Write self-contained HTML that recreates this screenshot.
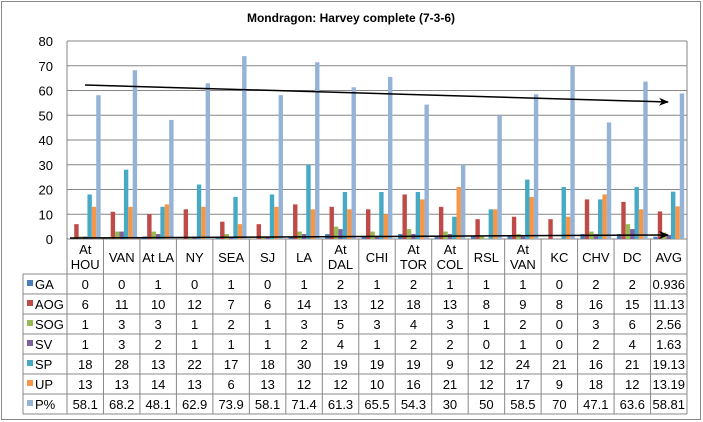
<!DOCTYPE html>
<html><head><style>body{margin:0;background:#fff}svg{display:block;font-family:"Liberation Sans",Arial,sans-serif}</style></head>
<body>
<svg id="s" width="703" height="422" xmlns="http://www.w3.org/2000/svg"></svg>
<script>
const s=document.getElementById('s');let h='';
h+='<rect x="1.5" y="1.5" width="699" height="418" fill="#fff" stroke="#888"/>';
h+='<text x="351" y="22" text-anchor="middle" font-size="12" font-weight="bold">Mondragon: Harvey complete (7-3-6)</text>';
const L=67,R=687,T=41,B=239,cw=(R-L)/17,u=(B-T)/80;
for(let i=0;i<=8;i++){const y=B-i*10*u;h+=`<line x1="${L}" x2="${R}" y1="${y}" y2="${y}" stroke="#868686"/>`;h+=`<text x="53" y="${y+5}" text-anchor="end" font-size="13">${i*10}</text>`;}
h+=`<line x1="${L}" x2="${L}" y1="${T}" y2="${B}" stroke="#868686"/><line x1="${R}" x2="${R}" y1="${T}" y2="${B}" stroke="#868686"/>`;
const cats=[["At","HOU"],["VAN"],["At LA"],["NY"],["SEA"],["SJ"],["LA"],["At","DAL"],["CHI"],["At","TOR"],["At","COL"],["RSL"],["At","VAN"],["KC"],["CHV"],["DC"],["AVG"]];
const ser=[["GA","#4a7ebb",[0,0,1,0,1,0,1,2,1,2,1,1,1,0,2,2,0.936]],
["AOG","#be4b48",[6,11,10,12,7,6,14,13,12,18,13,8,9,8,16,15,11.13]],
["SOG","#98b954",[1,3,3,1,2,1,3,5,3,4,3,1,2,0,3,6,2.56]],
["SV","#7d60a0",[1,3,2,1,1,1,2,4,1,2,2,0,1,0,2,4,1.63]],
["SP","#46aac5",[18,28,13,22,17,18,30,19,19,19,9,12,24,21,16,21,19.13]],
["UP","#f79646",[13,13,14,13,6,13,12,12,10,16,21,12,17,9,18,12,13.19]],
["P%","#95b3d7",[58.1,68.2,48.1,62.9,73.9,58.1,71.4,61.3,65.5,54.3,30,50,58.5,70,47.1,63.6,58.81]]];
const bw=4.4;
for(let c=0;c<17;c++){const x0=L+c*cw+(cw-7*bw)/2;
ser.forEach((se,k)=>{const v=se[2][c];const hh=v*u;h+=`<rect x="${x0+k*bw}" y="${B-hh}" width="${bw}" height="${hh}" fill="${se[1]}"/>`;});}
h+='<defs><marker id="a" markerWidth="10" markerHeight="8" refX="9" refY="4" orient="auto" markerUnits="userSpaceOnUse"><path d="M0,0 L10,4 L0,8 L3,4 Z" fill="#000"/></marker></defs>';
h+='<line x1="85" y1="85" x2="668" y2="102" stroke="#000" stroke-width="1.5" marker-end="url(#a)"/>';
h+='<line x1="70" y1="238" x2="668" y2="235" stroke="#000" stroke-width="1.5" marker-end="url(#a)"/>';
// table
const g='#888';
h+=`<line x1="${L}" x2="${L}" y1="${B}" y2="414" stroke="${g}"/>`;
for(let c=1;c<=17;c++){const x=L+c*cw;h+=`<line x1="${x}" x2="${x}" y1="${B}" y2="414" stroke="${g}"/>`;}
for(let r=0;r<=7;r++){const y=274+r*20;h+=`<line x1="23" x2="${R}" y1="${y}" y2="${y}" stroke="${g}"/>`;}
h+=`<line x1="23" x2="23" y1="274" y2="414" stroke="${g}"/>`;
cats.forEach((ca,c)=>{const cx=L+c*cw+cw/2;if(ca.length==2){h+=`<text x="${cx}" y="254" text-anchor="middle" font-size="13">${ca[0]}</text><text x="${cx}" y="269" text-anchor="middle" font-size="13">${ca[1]}</text>`}else h+=`<text x="${cx}" y="262" text-anchor="middle" font-size="13">${ca[0]}</text>`;});
ser.forEach((se,r)=>{const y=274+r*20;h+=`<rect x="27" y="${y+6}" width="6" height="6" fill="${se[1]}"/><text x="35" y="${y+15}" font-size="13">${se[0]}</text>`;
se[2].forEach((v,c)=>{h+=`<text x="${L+c*cw+cw/2}" y="${y+15}" text-anchor="middle" font-size="13">${v}</text>`;});});
s.innerHTML=h;
</script>
</body></html>
